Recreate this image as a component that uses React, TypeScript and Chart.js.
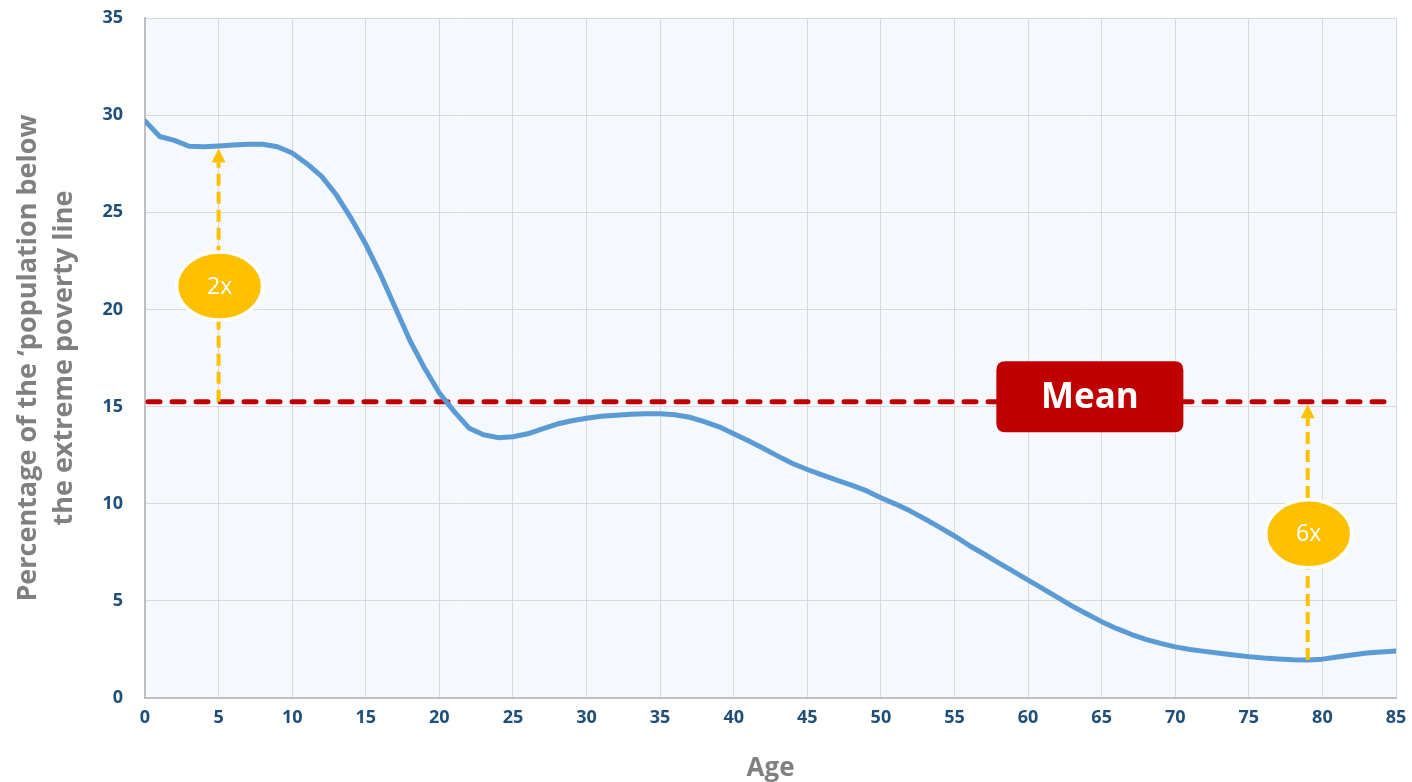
import React, { useEffect, useRef } from 'react';
import { Chart, registerables } from 'chart.js';

Chart.register(...registerables);

// ---- Data ----
const ages = [
  0, 1, 2, 3, 4, 5, 6, 7, 8, 9, 10, 11, 12, 13, 14, 15, 16, 17, 18, 19, 20,
  21, 22, 23, 24, 25, 26, 27, 28, 29, 30, 31, 32, 33, 34, 35, 36, 37, 38, 39, 40,
  41, 42, 43, 44, 45, 46, 47, 48, 49, 50, 51, 52, 53, 54, 55, 56, 57, 58, 59, 60,
  61, 62, 63, 64, 65, 66, 67, 68, 69, 70, 71, 72, 73, 74, 75, 76, 77, 78, 79, 80,
  81, 82, 83, 84, 85,
];

const povertyRate = [
  29.7, 28.9, 28.7, 28.4, 28.37, 28.41, 28.46, 28.5, 28.5, 28.37, 28.05,
  27.5, 26.85, 25.9, 24.7, 23.35, 21.8, 20.1, 18.4, 16.97, 15.7,
  14.75, 13.9, 13.55, 13.4, 13.45, 13.6, 13.85, 14.1, 14.27, 14.4,
  14.5, 14.55, 14.6, 14.63, 14.63, 14.58, 14.45, 14.22, 13.96, 13.6,
  13.24, 12.85, 12.45, 12.07, 11.76, 11.48, 11.22, 10.96, 10.67, 10.31,
  9.98, 9.62, 9.21, 8.78, 8.34, 7.85, 7.41, 6.96, 6.52, 6.07,
  5.63, 5.18, 4.73, 4.32, 3.93, 3.58, 3.28, 3.02, 2.81, 2.63,
  2.5, 2.4, 2.3, 2.21, 2.13, 2.06, 2.01, 1.97, 1.96, 2.0,
  2.11, 2.21, 2.32, 2.37, 2.42,
];

const MEAN_VALUE = 15.25;
const xTickValues = [0, 5, 10, 15, 20, 25, 30, 35, 40, 45, 50, 55, 60, 65, 70, 75, 80, 85];
const yTickValues = [0, 5, 10, 15, 20, 25, 30, 35];

const calloutAges = [5, 79];
const calloutLabels = ['2x', '6x'];
const calloutBubbleValues = [21.2, 8.45];

const meanLabelText = 'Mean';
const meanLabelAge = 64.2;
const meanLabelValue = 15.5;

const yTitleLines = ['Percentage of the \u2018population below', 'the extreme poverty line'];
const xTitle = 'Age';

// ---- Styles ----
const FONT = '"Open Sans", "DejaVu Sans", sans-serif';
const TICK_COLOR = '#1F4E79';
const TITLE_COLOR = '#808080';
const LINE_COLOR = '#5B9BD5';
const MEAN_COLOR = '#C00000';
const CALLOUT_COLOR = '#FFC000';

function roundRect(ctx: CanvasRenderingContext2D, x: number, y: number, w: number, h: number, r: number) {
  ctx.beginPath();
  ctx.moveTo(x + r, y);
  ctx.lineTo(x + w - r, y);
  ctx.quadraticCurveTo(x + w, y, x + w, y + r);
  ctx.lineTo(x + w, y + h - r);
  ctx.quadraticCurveTo(x + w, y + h, x + w - r, y + h);
  ctx.lineTo(x + r, y + h);
  ctx.quadraticCurveTo(x, y + h, x, y + h - r);
  ctx.lineTo(x, y + r);
  ctx.quadraticCurveTo(x, y, x + r, y);
  ctx.closePath();
}

const annotationPlugin = {
  id: 'annotations',
  beforeDraw(chart: any) {
    const { ctx, chartArea } = chart;
    ctx.save();
    ctx.fillStyle = '#F5F8FC';
    ctx.fillRect(chartArea.left, chartArea.top, chartArea.right - chartArea.left, chartArea.bottom - chartArea.top);
    ctx.restore();
  },
  beforeDatasetsDraw(chart: any) {
    const { ctx, chartArea, scales } = chart;
    const y = scales.y.getPixelForValue(MEAN_VALUE);
    ctx.save();
    ctx.strokeStyle = MEAN_COLOR;
    ctx.lineWidth = 5;
    ctx.lineCap = 'round';
    ctx.setLineDash([12, 12]);
    ctx.beginPath();
    ctx.moveTo(chartArea.left + 3, y);
    ctx.lineTo(chartArea.right, y);
    ctx.stroke();
    ctx.restore();
  },
  afterDatasetsDraw(chart: any) {
    const { ctx, scales } = chart;
    const xs = scales.x;
    const ys = scales.y;
    const meanY = ys.getPixelForValue(MEAN_VALUE);

    calloutAges.forEach((age, i) => {
      const idx = ages.indexOf(age);
      const x = xs.getPixelForValue(age);
      const curveY = ys.getPixelForValue(povertyRate[idx]);
      const topY = Math.min(curveY, meanY) + 2.5;
      const bottomY = Math.max(curveY, meanY);
      const headH = 14;
      const headW = 7;
      ctx.save();
      ctx.strokeStyle = CALLOUT_COLOR;
      ctx.lineWidth = 4;
      ctx.setLineDash([12, 6]);
      ctx.beginPath();
      ctx.moveTo(x, bottomY);
      ctx.lineTo(x, topY + headH);
      ctx.stroke();
      ctx.setLineDash([]);
      ctx.fillStyle = CALLOUT_COLOR;
      ctx.beginPath();
      ctx.moveTo(x, topY);
      ctx.lineTo(x + headW, topY + headH);
      ctx.lineTo(x - headW, topY + headH);
      ctx.closePath();
      ctx.fill();

      // bubble
      const by = ys.getPixelForValue(calloutBubbleValues[i]);
      ctx.beginPath();
      ctx.ellipse(x + 1, by, 43, 34, 0, 0, Math.PI * 2);
      ctx.fillStyle = CALLOUT_COLOR;
      ctx.fill();
      ctx.lineWidth = 3.5;
      ctx.strokeStyle = '#FFFFFF';
      ctx.stroke();
      ctx.fillStyle = '#FFFFFF';
      ctx.font = `23px ${FONT}`;
      ctx.textAlign = 'center';
      ctx.textBaseline = 'middle';
      ctx.fillText(calloutLabels[i], x + 1, by + 1);
      ctx.restore();
    });

    // Mean label box
    const cx = xs.getPixelForValue(meanLabelAge);
    const cy = ys.getPixelForValue(meanLabelValue);
    const w = 187;
    const h = 71;
    ctx.save();
    roundRect(ctx, cx - w / 2, cy - h / 2, w, h, 9);
    ctx.fillStyle = MEAN_COLOR;
    ctx.fill();
    ctx.fillStyle = '#FFFFFF';
    ctx.font = `bold 35px ${FONT}`;
    ctx.textAlign = 'center';
    ctx.textBaseline = 'middle';
    ctx.fillText(meanLabelText, cx, cy + 1);
    ctx.restore();
  },
};

function zeroPadding(scale: any) {
  scale.paddingTop = 0;
  scale.paddingBottom = 0;
  scale.paddingLeft = 0;
  scale.paddingRight = 0;
}

export default function App() {
  const canvasRef = useRef<HTMLCanvasElement | null>(null);

  useEffect(() => {
    const canvas = canvasRef.current;
    if (!canvas) return;
    const chart = new Chart(canvas, {
      type: 'line',
      data: {
        datasets: [
          {
            label: 'Poverty rate',
            data: ages.map((a, i) => ({ x: a, y: povertyRate[i] })),
            borderColor: LINE_COLOR,
            borderWidth: 5,
            pointRadius: 0,
            tension: 0,
            borderJoinStyle: 'round',
            borderCapStyle: 'round',
            fill: false,
          },
        ],
      },
      options: {
        responsive: false,
        animation: false,
        layout: { padding: { top: 18, right: 16, left: 0, bottom: 0 } },
        plugins: {
          legend: { display: false },
          tooltip: { enabled: false },
        },
        scales: {
          x: {
            type: 'linear',
            min: 0,
            max: 85,
            afterBuildTicks: (scale: any) => {
              scale.ticks = xTickValues.map((v) => ({ value: v }));
            },
            afterFit: (scale: any) => {
              scale.height = 84;
              zeroPadding(scale);
            },
            grid: { color: '#D9D9D9', lineWidth: 1, drawTicks: false },
            border: { color: '#BFBFBF', width: 2 },
            ticks: {
              color: TICK_COLOR,
              font: { family: FONT, size: 18, weight: 'bold' },
              padding: 9,
              maxRotation: 0,
              autoSkip: false,
            },
            title: {
              display: true,
              text: xTitle,
              color: TITLE_COLOR,
              font: { family: FONT, size: 26, weight: 'bold', lineHeight: 1.2 },
              padding: { top: 0, bottom: -2 },
            },
          },
          y: {
            type: 'linear',
            min: 0,
            max: 35,
            afterBuildTicks: (scale: any) => {
              scale.ticks = yTickValues.map((v) => ({ value: v }));
            },
            afterFit: (scale: any) => {
              scale.width = 145;
              zeroPadding(scale);
            },
            grid: { color: '#D9D9D9', lineWidth: 1, drawTicks: false },
            border: { color: '#BFBFBF', width: 2 },
            ticks: {
              color: TICK_COLOR,
              font: { family: FONT, size: 18, weight: 'bold' },
              padding: 22,
            },
            title: {
              display: true,
              text: yTitleLines,
              color: TITLE_COLOR,
              font: { family: FONT, size: 27, weight: 'bold', lineHeight: 1.33 },
              padding: { top: 10, bottom: 0 },
            },
          },
        },
      },
      plugins: [annotationPlugin],
    });
    return () => chart.destroy();
  }, []);

  return (
    <div style={{ position: 'absolute', left: 0, top: 0, width: 1412, height: 782, background: '#FFFFFF' }}>
      <canvas ref={canvasRef} width={1412} height={782} style={{ display: 'block' }} />
    </div>
  );
}
